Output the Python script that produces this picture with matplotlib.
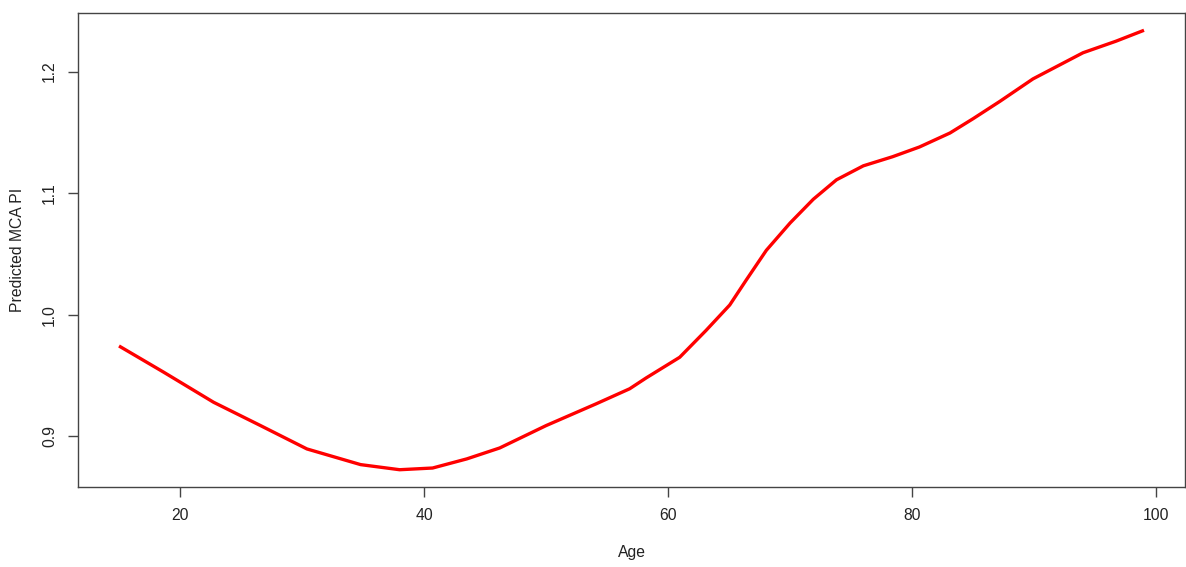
import matplotlib
matplotlib.use("Agg")
import matplotlib.pyplot as plt

age = [15.0, 18.65, 22.75, 26.6, 30.4, 34.8, 38.0, 40.7, 43.5, 46.2,
       50.0, 54.1, 56.85, 58.2, 60.95, 63.1, 65.05, 66.4, 68.05,
       70.0, 71.9, 73.8, 76.0, 78.4, 80.6, 83.1, 85.0, 87.2,
       89.9, 94.0, 96.7, 99.0]
predicted = [0.9743, 0.9528, 0.928, 0.9088, 0.8896, 0.8767, 0.8725, 0.8739, 0.8814, 0.8904,
             0.9088, 0.9267, 0.9391, 0.948, 0.965, 0.987, 1.008, 1.0285, 1.053,
             1.0755, 1.095, 1.111, 1.1225, 1.130, 1.138, 1.1495, 1.1613, 1.1756,
             1.194, 1.2155, 1.225, 1.234]
x_ticks = [20, 40, 60, 80, 100]
y_ticks = [0.9, 1.0, 1.1, 1.2]
y_tick_labels = ["0.9", "1.0", "1.1", "1.2"]

plt.rcParams["font.family"] = ["Liberation Sans", "DejaVu Sans"]
fs = 11.3

fig = plt.figure(figsize=(11.86, 5.67), dpi=100)
ax = fig.add_axes([78 / 1186, (567 - 487.3) / 567, (1185 - 78) / 1186, (487.3 - 12.7) / 567])

ax.plot(age, predicted, color="#ff0000", lw=2.4, solid_capstyle="butt",
        solid_joinstyle="round")

xr = max(age) - min(age)
yr = max(predicted) - min(predicted)
ax.set_xlim(min(age) - 0.04 * xr, max(age) + 0.04 * xr)
ax.set_ylim(min(predicted) - 0.04 * yr, max(predicted) + 0.04 * yr)

ax.set_xticks(x_ticks)
ax.set_xticklabels([str(t) for t in x_ticks])
ax.set_yticks(y_ticks)
ax.set_yticklabels(y_tick_labels, rotation=90, va="center")

for s in ax.spines.values():
    s.set_color("#444444")
    s.set_linewidth(1.0)
ax.tick_params(axis="both", length=7, width=1.0, color="#444444",
               labelsize=fs, labelcolor="#222222")
ax.tick_params(axis="x", pad=8)
ax.tick_params(axis="y", pad=8)

fig.text((78 + 1185) / 2 / 1186, 1 - 553 / 567, "Age", ha="center", va="center",
         fontsize=fs, color="#222222")
fig.text(18 / 1186, 1 - 250 / 567, "Predicted MCA PI", ha="center", va="center",
         rotation=90, fontsize=fs, color="#222222")

fig.savefig("out.png", dpi=100, facecolor="white")
